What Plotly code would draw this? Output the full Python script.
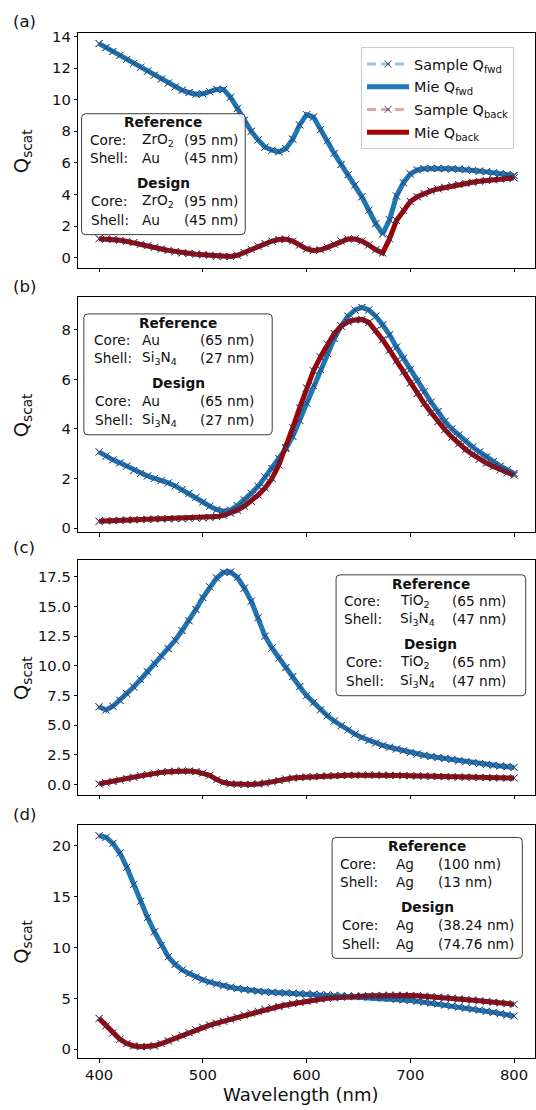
import numpy as np
import plotly.graph_objects as go

W, H = 536, 1110
FONT = "DejaVu Sans"

# Wavelength grid shared by all four spectra (nm)
wavelength = np.linspace(400, 800, 61)

# (a) ZrO2 core / Au shell
q_fwd_a = [13.55, 13.3, 13.05, 12.8, 12.55, 12.3, 12.05, 11.8, 11.55, 11.3,
           11.05, 10.8, 10.6, 10.45, 10.35, 10.37, 10.5, 10.65, 10.65, 10.15,
           9.45, 8.7, 8.0, 7.45, 7.0, 6.8, 6.7, 6.9, 7.5, 8.4,
           9.05, 8.9, 8.1, 7.4, 6.6, 5.9, 5.25, 4.6, 3.85, 3.0,
           2.15, 1.5, 2.4, 3.9, 4.75, 5.3, 5.55, 5.63, 5.65, 5.65,
           5.63, 5.62, 5.6, 5.57, 5.52, 5.48, 5.43, 5.37, 5.32, 5.26, 5.2]
q_back_a = [1.2, 1.18, 1.15, 1.1, 1.03, 0.95, 0.85, 0.75, 0.65, 0.55,
            0.46, 0.38, 0.31, 0.26, 0.22, 0.19, 0.15, 0.1, 0.07, 0.07,
            0.15, 0.32, 0.52, 0.72, 0.9, 1.05, 1.15, 1.17, 1.05, 0.8,
            0.55, 0.45, 0.5, 0.65, 0.85, 1.05, 1.18, 1.18, 1.05, 0.8,
            0.5, 0.3, 1.2, 2.35, 3.0, 3.55, 3.85, 4.05, 4.22, 4.35,
            4.45, 4.55, 4.63, 4.7, 4.77, 4.83, 4.88, 4.93, 4.97, 5.01, 5.05]

# (b) Au core / Si3N4 shell
q_fwd_b = [3.07, 2.9, 2.75, 2.63, 2.5, 2.32, 2.2, 2.1, 2.0, 1.92,
           1.82, 1.7, 1.55, 1.4, 1.24, 1.05, 0.88, 0.74, 0.68, 0.72,
           0.9, 1.13, 1.4, 1.68, 2.05, 2.4, 2.8, 3.2, 3.7, 4.35,
           5.05, 5.75, 6.4, 7.05, 7.65, 8.15, 8.55, 8.8, 8.9, 8.8,
           8.55, 8.2, 7.8, 7.3, 6.85, 6.4, 5.95, 5.5, 5.08, 4.7,
           4.3, 4.0, 3.75, 3.5, 3.27, 3.07, 2.87, 2.68, 2.5, 2.35, 2.2]
q_back_b = [0.27, 0.29, 0.3, 0.31, 0.32, 0.33, 0.34, 0.35, 0.36, 0.37,
            0.37, 0.38, 0.38, 0.39, 0.4, 0.41, 0.43, 0.46, 0.51, 0.6,
            0.72, 0.88, 1.08, 1.33, 1.62, 2.0, 2.55, 3.25, 4.05, 4.85,
            5.65, 6.35, 6.9, 7.42, 7.85, 8.15, 8.32, 8.4, 8.42, 8.3,
            7.98, 7.6, 7.18, 6.75, 6.3, 5.85, 5.43, 5.03, 4.66, 4.3,
            3.97, 3.67, 3.4, 3.17, 2.97, 2.78, 2.62, 2.48, 2.35, 2.23, 2.13]

# (c) TiO2 core / Si3N4 shell
q_fwd_c = [6.55, 6.28, 6.6, 7.1, 7.65, 8.22, 8.85, 9.5, 10.2, 10.82,
           11.45, 12.15, 12.97, 13.8, 14.75, 15.75, 16.65, 17.4, 17.88, 17.9,
           17.45, 16.55, 15.45, 14.05, 12.5, 11.5, 10.65, 9.85, 9.1, 8.25,
           7.5, 6.9, 6.3, 5.8, 5.35, 4.95, 4.6, 4.25, 3.97, 3.72,
           3.5, 3.3, 3.15, 3.0, 2.85, 2.7, 2.58, 2.47, 2.37, 2.28,
           2.2, 2.12, 2.02, 1.93, 1.85, 1.77, 1.7, 1.63, 1.57, 1.51, 1.45]
q_back_c = [0.06, 0.15, 0.27, 0.39, 0.51, 0.63, 0.75, 0.86, 0.95, 1.03,
            1.09, 1.13, 1.15, 1.14, 1.09, 0.98, 0.78, 0.42, 0.18, 0.07,
            0.02, 0.01, 0.02, 0.06, 0.12, 0.23, 0.35, 0.47, 0.55, 0.6,
            0.64, 0.67, 0.7, 0.73, 0.75, 0.77, 0.78, 0.79, 0.8, 0.8,
            0.8, 0.79, 0.78, 0.77, 0.76, 0.75, 0.73, 0.72, 0.7, 0.69,
            0.67, 0.66, 0.64, 0.63, 0.61, 0.6, 0.59, 0.58, 0.57, 0.56, 0.55]

# (d) Ag core / Ag shell
q_fwd_d = [21.0, 20.85, 20.25, 19.3, 17.9, 16.2, 14.55, 12.95, 11.55, 10.2,
           9.1, 8.35, 7.8, 7.45, 7.1, 6.82, 6.6, 6.4, 6.24, 6.1,
           5.98, 5.87, 5.78, 5.7, 5.64, 5.6, 5.56, 5.53, 5.5, 5.47,
           5.44, 5.41, 5.38, 5.34, 5.3, 5.27, 5.23, 5.2, 5.16, 5.13,
           5.08, 5.03, 4.98, 4.92, 4.86, 4.8, 4.72, 4.63, 4.54, 4.45,
           4.35, 4.25, 4.15, 4.05, 3.95, 3.85, 3.74, 3.62, 3.5, 3.38, 3.26]
q_back_d = [3.03, 2.3, 1.6, 0.98, 0.55, 0.32, 0.24, 0.25, 0.33, 0.55,
            0.82, 1.1, 1.37, 1.63, 1.9, 2.15, 2.37, 2.56, 2.75, 2.95,
            3.15, 3.35, 3.55, 3.73, 3.91, 4.06, 4.2, 4.34, 4.48, 4.6,
            4.72, 4.83, 4.92, 5.0, 5.06, 5.12, 5.16, 5.2, 5.23, 5.25,
            5.27, 5.29, 5.3, 5.3, 5.3, 5.28, 5.25, 5.21, 5.17, 5.12,
            5.07, 5.01, 4.95, 4.89, 4.83, 4.77, 4.7, 4.63, 4.56, 4.49, 4.42]

q_fwd = [q_fwd_a, q_fwd_b, q_fwd_c, q_fwd_d]
q_back = [q_back_a, q_back_b, q_back_c, q_back_d]

panel_tags = ["(a)", "(b)", "(c)", "(d)"]
y_tickvals = [[0, 2, 4, 6, 8, 10, 12, 14],
              [0, 2, 4, 6, 8],
              [0, 2.5, 5, 7.5, 10, 12.5, 15, 17.5],
              [0, 5, 10, 15, 20]]
y_ticktext = [["0", "2", "4", "6", "8", "10", "12", "14"],
              ["0", "2", "4", "6", "8"],
              ["0.0", "2.5", "5.0", "7.5", "10.0", "12.5", "15.0", "17.5"],
              ["0", "5", "10", "15", "20"]]
y_ranges = [[-0.65, 14.19], [-0.17, 9.31], [-0.86, 18.89], [-0.88, 22.1]]
x_ticks = [400, 500, 600, 700, 800]
x_range = [380, 820]

# Particle descriptions shown in each panel's info box
core_material = ["ZrO<sub>2</sub>", "Au", "TiO<sub>2</sub>", "Ag"]
shell_material = ["Au", "Si<sub>3</sub>N<sub>4</sub>", "Si<sub>3</sub>N<sub>4</sub>", "Ag"]
ref_core_nm = ["95", "65", "65", "100"]
ref_shell_nm = ["45", "27", "47", "13"]
design_core_nm = ["95", "65", "65", "38.24"]
design_shell_nm = ["45", "27", "47", "74.76"]

# Colours
C_FWD = "#1f77b4"
C_BACK = "#a00000"
C_FWD_LIGHT = "#8fc8e8"
C_BACK_LIGHT = "#dda7aa"
C_MARK = "#2b3f70"
MARKER = dict(symbol="x-thin", size=7, color=C_MARK, line=dict(width=0.9, color=C_MARK))

# Page geometry in pixels
PLOT_L, PLOT_R = 78.5, 535.8
panel_top = [27.7, 294.0, 559.3, 826.0]
panel_bot = [264.3, 531.0, 796.0, 1061.7]

box_left = [81.7, 84.0, 336.7, 332.7]
box_right = [245.7, 272.7, 526.7, 523.3]
box_top = [108.7, 310.7, 574.0, 839.0]
BOX_H = 122.0
row_offsets = [8.8, 26.3, 44.8, 69.9, 88.0, 107.3]
label_x = [88.5, 91.7, 342.7, 339.0]
label2_x = [89.3, 93.3, 344.3, 341.0]
mat_x = [140.0, 140.0, 399.0, 395.0]
nm_x = [182.7, 198.3, 451.0, 436.7]


def fx(px):
    return px / W


def fy(py):
    return 1 - py / H


def rounded_box(x0, y0, x1, y1, r=4.0):
    pts = [
        ("M", [(x0 + r, y0)]), ("L", [(x1 - r, y0)]), ("Q", [(x1, y0), (x1, y0 + r)]),
        ("L", [(x1, y1 - r)]), ("Q", [(x1, y1), (x1 - r, y1)]),
        ("L", [(x0 + r, y1)]), ("Q", [(x0, y1), (x0, y1 - r)]),
        ("L", [(x0, y0 + r)]), ("Q", [(x0, y0), (x0 + r, y0)]),
    ]
    parts = []
    for cmd, coords in pts:
        parts.append(cmd + " ".join(f"{fx(a):.5f},{fy(b):.5f}" for a, b in coords))
    return " ".join(parts) + " Z"


fig = go.Figure()

for i in range(4):
    n = "" if i == 0 else str(i + 1)
    xa, ya = "x" + n, "y" + n
    first = i == 0
    # sample series (line styling shows in the legend, sits under the Mie curves)
    fig.add_trace(go.Scatter(
        x=wavelength, y=q_fwd[i], mode="lines+markers", xaxis=xa, yaxis=ya,
        line=dict(color=C_FWD_LIGHT, width=3, dash="9px,5px"), marker=MARKER,
        name="Sample Q<sub>fwd</sub>", legendgroup="g1", legendrank=1, showlegend=first))
    fig.add_trace(go.Scatter(
        x=wavelength, y=q_back[i], mode="lines+markers", xaxis=xa, yaxis=ya,
        line=dict(color=C_BACK_LIGHT, width=3, dash="9px,5px"), marker=MARKER,
        name="Sample Q<sub>back</sub>", legendgroup="g3", legendrank=3, showlegend=first))
    # Mie curves
    fig.add_trace(go.Scatter(
        x=wavelength, y=q_fwd[i], mode="lines", xaxis=xa, yaxis=ya,
        line=dict(color=C_FWD, width=5),
        name="Mie Q<sub>fwd</sub>", legendgroup="g2", legendrank=2, showlegend=first))
    fig.add_trace(go.Scatter(
        x=wavelength, y=q_back[i], mode="lines", xaxis=xa, yaxis=ya,
        line=dict(color=C_BACK, width=5),
        name="Mie Q<sub>back</sub>", legendgroup="g4", legendrank=4, showlegend=first))
    # sample markers drawn on top of the curves
    for ys in (q_fwd[i], q_back[i]):
        fig.add_trace(go.Scatter(
            x=wavelength, y=ys, mode="markers", xaxis=xa, yaxis=ya, marker=MARKER,
            showlegend=False, hoverinfo="skip"))

axis_common = dict(showline=True, mirror=True, linecolor="black", linewidth=1,
                   ticks="outside", ticklen=3.5, tickwidth=0.8, tickcolor="black",
                   showgrid=False, zeroline=False,
                   tickfont=dict(family=FONT, size=14.8, color="#111111"))

layout_axes = {}
for i in range(4):
    n = "" if i == 0 else str(i + 1)
    layout_axes["xaxis" + n] = dict(
        axis_common, domain=[fx(PLOT_L), fx(PLOT_R)], range=x_range, anchor="y" + n,
        tickvals=x_ticks, ticktext=[str(v) for v in x_ticks], showticklabels=(i == 3))
    layout_axes["yaxis" + n] = dict(
        axis_common, domain=[fy(panel_bot[i]), fy(panel_top[i])], range=y_ranges[i],
        anchor="x" + n, tickvals=y_tickvals[i], ticktext=y_ticktext[i])

annotations = []
shapes = []
for i in range(4):
    mid = (panel_top[i] + panel_bot[i]) / 2
    annotations.append(dict(text="Q<sub>scat</sub>", x=fx(22.5), y=fy(mid), xref="paper", yref="paper",
                            textangle=-90, showarrow=False, xanchor="center", yanchor="middle",
                            font=dict(family=FONT, size=19.5, color="#111111")))
    tag_y = [16.0, 283.3, 546.7, 816.0][i]
    annotations.append(dict(text=panel_tags[i], x=fx(11.5), y=fy(tag_y), xref="paper", yref="paper",
                            showarrow=False, xanchor="left", yanchor="middle",
                            font=dict(family=FONT, size=16.5, color="#111111")))

    # info box
    shapes.append(dict(type="path", xref="paper", yref="paper",
                       path=rounded_box(box_left[i], box_top[i], box_right[i], box_top[i] + BOX_H),
                       line=dict(color="#3c3c3c", width=1), fillcolor="rgba(255,255,255,0.85)",
                       layer="above"))
    cx = (box_left[i] + box_right[i]) / 2
    rows = [box_top[i] + o for o in row_offsets]
    tf = dict(family=FONT, size=13.7, color="#111111")

    def put(text, x, y, anchor="left"):
        annotations.append(dict(text=text, x=fx(x), y=fy(y), xref="paper", yref="paper",
                                showarrow=False, xanchor=anchor, yanchor="middle", font=tf))

    put("<b>Reference</b>", cx, rows[0], "center")
    put("Core:", label_x[i], rows[1])
    put(core_material[i], mat_x[i], rows[1])
    put(f"({ref_core_nm[i]} nm)", nm_x[i], rows[1])
    put("Shell:", label_x[i], rows[2])
    put(shell_material[i], mat_x[i], rows[2])
    put(f"({ref_shell_nm[i]} nm)", nm_x[i], rows[2])
    put("<b>Design</b>", cx, rows[3], "center")
    put("Core:", label2_x[i], rows[4])
    put(core_material[i], mat_x[i], rows[4])
    put(f"({design_core_nm[i]} nm)", nm_x[i], rows[4])
    put("Shell:", label2_x[i], rows[5])
    put(shell_material[i], mat_x[i], rows[5])
    put(f"({design_shell_nm[i]} nm)", nm_x[i], rows[5])

annotations.append(dict(text="Wavelength (nm)", x=fx(302), y=fy(1098.5), xref="paper", yref="paper",
                        showarrow=False, xanchor="center", yanchor="middle",
                        font=dict(family=FONT, size=18, color="#111111")))

fig.update_layout(
    width=W, height=H,
    margin=dict(l=0, r=0, t=0, b=0),
    paper_bgcolor="white", plot_bgcolor="white",
    font=dict(family=FONT, color="#111111"),
    showlegend=True,
    legend=dict(x=fx(361.7), y=fy(41.5), xanchor="left", yanchor="top",
                bgcolor="rgba(255,255,255,0.85)", bordercolor="#cccccc", borderwidth=1,
                font=dict(family=FONT, size=14.4, color="#111111"),
                traceorder="grouped", tracegroupgap=1, itemwidth=42),
    annotations=annotations,
    shapes=shapes,
    **layout_axes,
)

fig.write_html("out.html")
